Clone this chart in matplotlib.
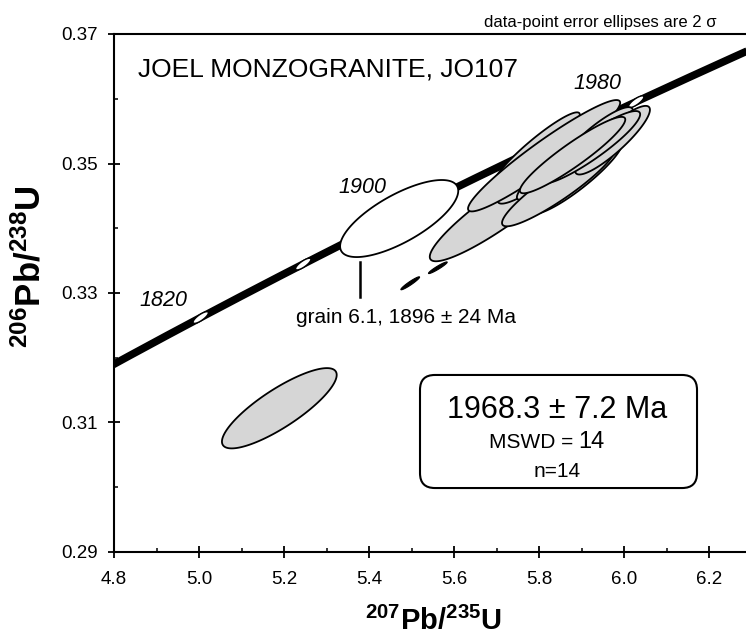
import numpy as np
import matplotlib
matplotlib.use("Agg")
import matplotlib.pyplot as plt
from matplotlib.patches import Polygon, FancyBboxPatch

plt.rcParams['font.family'] = ['Liberation Sans', 'DejaVu Sans']
plt.rcParams['mathtext.fontset'] = 'custom'
plt.rcParams['mathtext.rm'] = 'Liberation Sans'
plt.rcParams['mathtext.bf'] = 'Liberation Sans:bold'
plt.rcParams['mathtext.it'] = 'Liberation Sans:italic'

# ---- data ----
# decay constants (per year) for the concordia curve
lambda238 = 1.55125e-10
lambda235 = 9.8485e-10
concordia_ages_ma = [1760, 1780, 1800, 1820, 1840, 1860, 1880, 1900, 1920, 1940,
                     1960, 1980, 2000, 2020, 2040]
marker_ages_ma = [1780, 1820, 1860, 1900, 1940, 1980]
age_labels = ["1820", "1900", "1980"]

# gray (included) analyses: 207/235 centre, 206/238 centre, 2s x, 2s y, rho
gray_x   = [5.189, 5.714, 5.794, 5.827, 5.846, 5.888, 5.846, 5.812, 5.935, 5.973, 5.920, 5.879]
gray_y   = [0.3122, 0.3431, 0.3522, 0.3500, 0.3499, 0.3480, 0.3465, 0.3512, 0.3539, 0.3536, 0.3525, 0.3513]
gray_ex  = [0.135, 0.171, 0.102, 0.124, 0.098, 0.109, 0.133, 0.179, 0.086, 0.088, 0.118, 0.124]
gray_ey  = [0.0062, 0.0082, 0.0057, 0.0062, 0.0055, 0.0058, 0.0062, 0.0086, 0.0048, 0.0053, 0.0056, 0.0059]
gray_rho = [0.83, 0.915, 0.935, 0.925, 0.93, 0.905, 0.915, 0.95, 0.88, 0.885, 0.91, 0.93]

# small black analyses
black_x   = [5.497, 5.562]
black_y   = [0.3315, 0.3339]
black_ex  = [0.022, 0.022]
black_ey  = [0.0010, 0.0009]
black_rho = [0.95, 0.95]

# white (excluded) grain 6.1
white_x, white_y, white_ex, white_ey, white_rho = 5.471, 0.3415, 0.139, 0.00595, 0.72

x_ticks = [4.8, 5.0, 5.2, 5.4, 5.6, 5.8, 6.0, 6.2]
x_tick_labels = ["4.8", "5.0", "5.2", "5.4", "5.6", "5.8", "6.0", "6.2"]
y_ticks = [0.29, 0.31, 0.33, 0.35, 0.37]
y_tick_labels = ["0.29", "0.31", "0.33", "0.35", "0.37"]

title = "JOEL MONZOGRANITE, JO107"
note = "data-point error ellipses are 2 σ"
grain_label = "grain 6.1, 1896 ± 24 Ma"
age_text = "1968.3 ± 7.2 Ma"
mswd_text = "MSWD ="
mswd_value = "14"
n_text = "n=14"


def ellipse_xy(cx, cy, ex, ey, rho, n=200):
    t = np.linspace(0, 2 * np.pi, n)
    x = cx + ex * np.cos(t)
    y = cy + ey * (rho * np.cos(t) + np.sqrt(1 - rho ** 2) * np.sin(t))
    return np.column_stack([x, y])


def concordia(t_ma):
    t = np.asarray(t_ma, dtype=float) * 1e6
    return np.exp(lambda235 * t) - 1, np.exp(lambda238 * t) - 1


fig = plt.figure(figsize=(7.46, 6.36), dpi=100)
W, H = 746, 636
ax = fig.add_axes([114 / W, 1 - 552 / H, 1 - 114 / W, (552 - 34) / H])
ax.set_xlim(4.8, 4.8 + 632 / 425)
ax.set_ylim(0.29, 0.37)

# concordia band
t_dense = np.linspace(concordia_ages_ma[0], concordia_ages_ma[-1], 400)
cx_, cy_ = concordia(t_dense)
ax.plot(cx_, cy_, color='black', lw=5.5, solid_capstyle='butt', zorder=2)

# age markers on concordia
mx, my = concordia(marker_ages_ma)
for x0, y0 in zip(mx, my):
    ax.add_patch(Polygon(ellipse_xy(x0, y0, 0.018, 0.0009, 0.8), closed=True,
                         facecolor='white', edgecolor='black', lw=1.0, zorder=3))

# gray ellipses
for i in range(len(gray_x)):
    ax.add_patch(Polygon(ellipse_xy(gray_x[i], gray_y[i], gray_ex[i], gray_ey[i], gray_rho[i]),
                         closed=True, facecolor='#d6d6d6', edgecolor='black', lw=1.3, zorder=4))
# black small ellipses
for i in range(len(black_x)):
    ax.add_patch(Polygon(ellipse_xy(black_x[i], black_y[i], black_ex[i], black_ey[i], black_rho[i]),
                         closed=True, facecolor='black', edgecolor='black', lw=0.8, zorder=4))
# white ellipse
ax.add_patch(Polygon(ellipse_xy(white_x, white_y, white_ex, white_ey, white_rho),
                     closed=True, facecolor='white', edgecolor='black', lw=1.3, zorder=4))

# grain pointer
ax.plot([5.3788, 5.3788], [0.32938, 0.33479], color='black', lw=1.8, zorder=5)
ax.text(5.487, 0.32537, grain_label, fontsize=15, ha='center', va='baseline', zorder=6)

# age labels
ax.text(4.9153, 0.32884, age_labels[0], fontsize=15.5, style='italic', ha='center', va='center')
ax.text(5.3835, 0.34622, age_labels[1], fontsize=15.5, style='italic', ha='center', va='center')
ax.text(5.9365, 0.36243, age_labels[2], fontsize=15.5, style='italic', ha='center', va='center')

# title
ax.text(4.8565, 0.36351, title, fontsize=19, ha='left', va='baseline')

# result box
aspect = 425 / 6475
box = FancyBboxPatch((5.52, 0.29988), 6.1718 - 5.52, 0.31734 - 0.29988,
                     boxstyle="round,pad=0,rounding_size=0.035", mutation_aspect=aspect,
                     facecolor='white', edgecolor='black', lw=1.5, zorder=6)
ax.add_patch(box)
ax.text(5.8424, 0.3107, age_text, fontsize=22, ha='center', va='baseline', zorder=7)
ax.text(5.880, 0.30606, mswd_text, fontsize=15, ha='right', va='baseline', zorder=7)
ax.text(5.892, 0.30606, mswd_value, fontsize=17, ha='left', va='baseline', zorder=7)
ax.text(5.8424, 0.30158, n_text, fontsize=15, ha='center', va='baseline', zorder=7)

# axes styling
for side in ['top', 'left', 'bottom']:
    ax.spines[side].set_linewidth(1.5)
ax.spines['right'].set_visible(False)

ax.set_xticks(x_ticks)
ax.set_xticklabels(x_tick_labels)
ax.set_xticks(np.arange(4.9, 6.3, 0.2), minor=True)
ax.set_yticks(y_ticks)
ax.set_yticklabels(y_tick_labels)
ax.set_yticks([0.30, 0.32, 0.34, 0.36], minor=True)

ax.tick_params(axis='x', which='major', direction='inout', length=8, width=1.3,
               pad=10, labelsize=13.5, top=False)
ax.tick_params(axis='x', which='minor', direction='in', length=3, width=1.1, top=False)
ax.tick_params(axis='y', which='major', direction='inout', length=9, width=1.3,
               pad=7, labelsize=13.5, right=False)
ax.tick_params(axis='y', which='minor', direction='in', length=3, width=1.1, right=False)

# axis labels
fig.text(433 / W, 1 - 630 / H, r'$\mathbf{^{207}Pb/^{235}U}$', fontsize=21,
         ha='center', va='baseline')
fig.text(30 / W, 1 - 267 / H, r'$\mathbf{^{206}Pb/^{238}U}$', fontsize=25,
         ha='center', va='center', rotation=90)

# note on top
fig.text(717 / W, 1 - 27 / H, note, fontsize=12, ha='right', va='baseline')

fig.savefig('out.png', dpi=100)
